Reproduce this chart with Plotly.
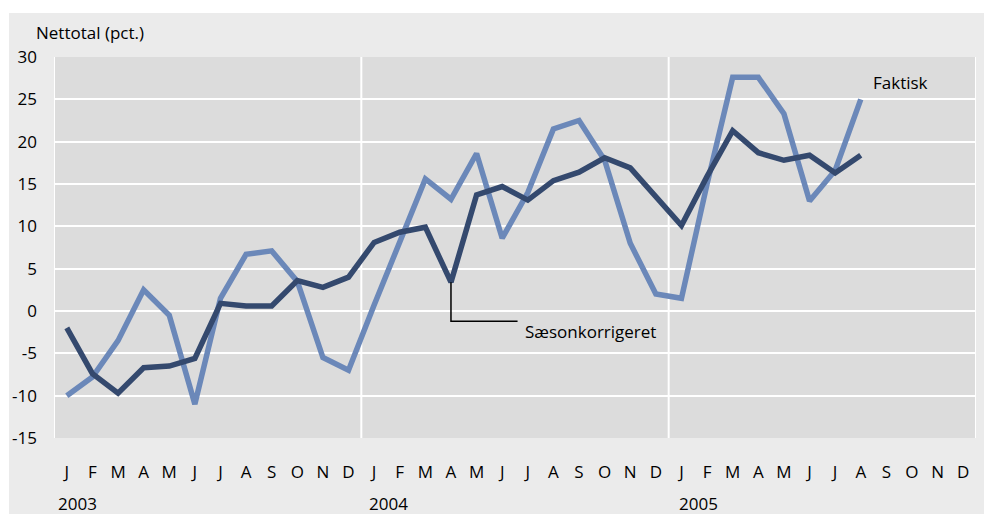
import plotly.graph_objects as go

months = ["J", "F", "M", "A", "M", "J", "J", "A", "S", "O", "N", "D"] * 3
years = ["2003", "2004", "2005"]
y_ticks = [-15, -10, -5, 0, 5, 10, 15, 20, 25, 30]
y_ticklabels = ["-15", "-10", "-5", "0", "5", "10", "15", "20", "25", "30"]

faktisk = [-10, -7.8, -3.5, 2.5, -0.5, -11, 1.5, 6.7, 7.1, 3.5, -5.5, -7,
           0.7, 8.2, 15.6, 13.2, 18.6, 8.6, 14, 21.5, 22.5, 17.8, 8, 2,
           1.5, 15, 27.6, 27.6, 23.3, 13, 16.6, 25]
saeson = [-2, -7.4, -9.7, -6.7, -6.5, -5.6, 0.9, 0.6, 0.6, 3.6, 2.8, 4,
          8.1, 9.3, 9.9, 3.4, 13.7, 14.7, 13.1, 15.4, 16.4, 18.1, 16.9, 13.5,
          10.1, 15.9, 21.3, 18.7, 17.8, 18.4, 16.3, 18.4]

FONT = "Open Sans"
BG = "#ebebeb"
PLOT_BG = "#dcdcdc"
LIGHT = "#6b88b9"
DARK = "#34496e"
TXT = "#000000"
FS = 17

x_f = list(range(len(faktisk)))
x_s = list(range(len(saeson)))

fig = go.Figure()
fig.add_trace(go.Scatter(x=x_f, y=faktisk, mode="lines", line=dict(color=LIGHT, width=5.5),
                         name="Faktisk", showlegend=False, hoverinfo="skip"))
fig.add_trace(go.Scatter(x=x_s, y=saeson, mode="lines", line=dict(color=DARK, width=5.5),
                         name="Sæsonkorrigeret", showlegend=False, hoverinfo="skip"))

shapes = []
# vertical year separators
for xv in [-0.5, 11.5, 23.5, 35.5]:
    shapes.append(dict(type="line", xref="x", yref="y", x0=xv, x1=xv, y0=-15, y1=30,
                       line=dict(color="white", width=2), layer="below"))
# white outer margins (top and left)
shapes.append(dict(type="rect", xref="paper", yref="paper", x0=-1, x1=2, y0=(438 - 13) / 381, y1=2,
                   fillcolor="white", line=dict(width=0), layer="above"))
shapes.append(dict(type="rect", xref="paper", yref="paper", x0=-1, x1=(9 - 54) / 922, y0=-1, y1=2,
                   fillcolor="white", line=dict(width=0), layer="above"))
# leader line for Sæsonkorrigeret
li = 15
shapes.append(dict(type="path", xref="x", yref="y",
                   path=f"M {li},{saeson[li]} L {li},-1.2 L 17.6,-1.2",
                   line=dict(color="black", width=1.5)))

annotations = [
    dict(text="Nettotal (pct.)", xref="paper", yref="paper", x=(34 - 54) / 922, y=(438 - 32) / 381,
         xanchor="left", yanchor="middle", showarrow=False, font=dict(size=FS, color=TXT)),
    dict(text="Faktisk", xref="x", yref="y", x=31.4, y=27.0, xanchor="left", yanchor="middle",
         showarrow=False, font=dict(size=FS, color=TXT)),
    dict(text="Sæsonkorrigeret", xref="x", yref="y", x=17.8, y=-2.4, xanchor="left", yanchor="middle",
         showarrow=False, font=dict(size=FS, color=TXT)),
]
for px, yr in zip([56, 367, 677], years):
    annotations.append(dict(text=yr, xref="x", yref="paper", x=(px - 67) / 25.6, y=(438 - 504) / 381,
                            xanchor="left", yanchor="middle", showarrow=False,
                            font=dict(size=FS, color=TXT)))

fig.update_layout(
    width=984, height=514,
    margin=dict(l=54, r=8, t=57, b=76),
    paper_bgcolor=BG, plot_bgcolor=PLOT_BG,
    font=dict(family=FONT, size=FS, color=TXT),
    shapes=shapes, annotations=annotations,
    xaxis=dict(range=[-0.5, 35.5], tickmode="array", tickvals=list(range(36)), ticktext=months,
               showgrid=False, zeroline=False, showline=False, ticks="", ticklabelstandoff=22,
               automargin=False, tickfont=dict(size=FS, color=TXT)),
    yaxis=dict(range=[-15, 30], tickmode="array", tickvals=y_ticks, ticktext=y_ticklabels,
               showgrid=True, gridcolor="white", gridwidth=2, zeroline=True, zerolinecolor="white",
               zerolinewidth=2, showline=False, ticks="", ticklabelstandoff=16,
               automargin=False, tickfont=dict(size=FS, color=TXT)),
)

fig.write_html("out.html", config={"displayModeBar": False},
               post_script="document.body.style.margin='0';document.body.style.overflow='hidden';")
